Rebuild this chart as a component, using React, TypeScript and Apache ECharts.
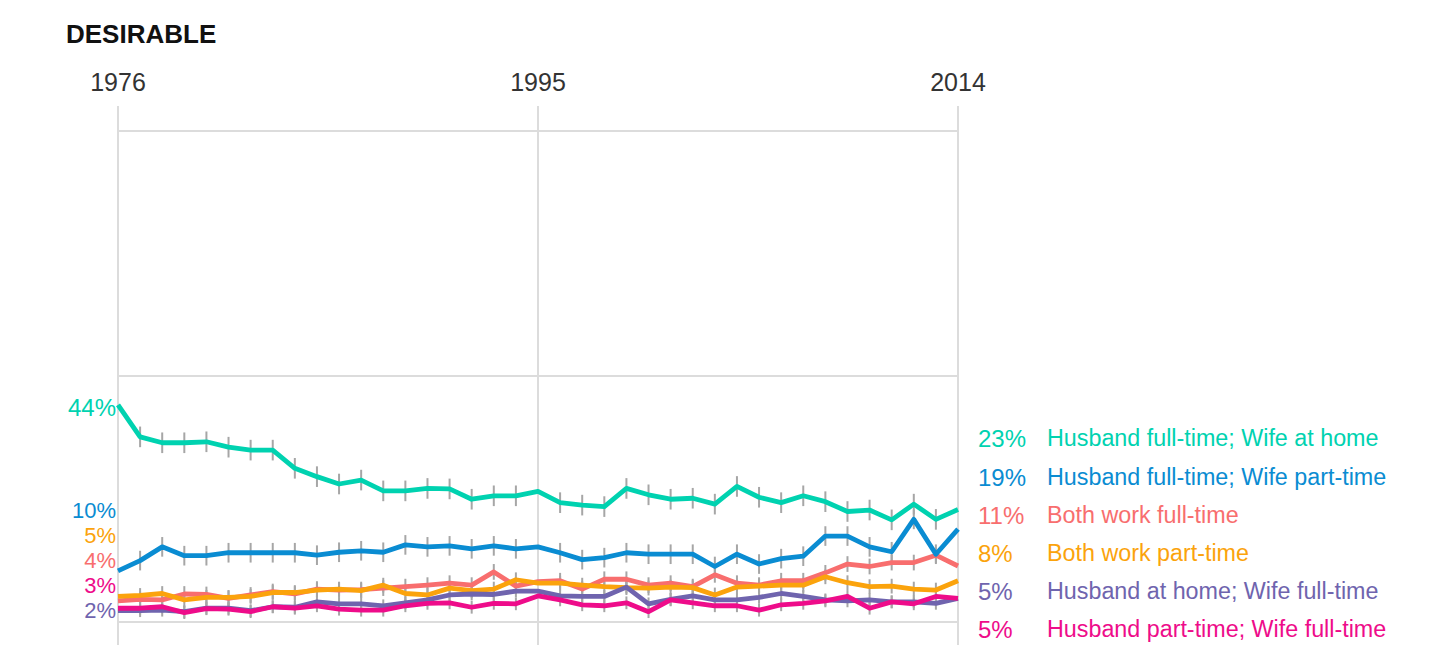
import React, { useEffect, useRef } from "react";
import * as echarts from "echarts";

const years = [
  1976, 1977, 1978, 1979, 1980, 1981, 1982, 1983, 1984, 1985,
  1986, 1987, 1988, 1989, 1990, 1991, 1992, 1993, 1994, 1995,
  1996, 1997, 1998, 1999, 2000, 2001, 2002, 2003, 2004, 2005,
  2006, 2007, 2008, 2009, 2010, 2011, 2012, 2013, 2014,
];
const xTicks = [1976, 1995, 2014];
const yGridValues = [0, 50, 100];
const noBarYears = [1976, 1995, 2014];

const seriesNames = [
  "Husband full-time; Wife at home",
  "Husband full-time; Wife part-time",
  "Both work full-time",
  "Both work part-time",
  "Husband at home; Wife full-time",
  "Husband part-time; Wife full-time",
];
const seriesColors = ["#00d2b0", "#0a8cd2", "#f86e6e", "#fba30c", "#6f64ae", "#ee0c8a"];

const husbandFtWifeHome = [
  44.1, 37.6, 36.4, 36.4, 36.6, 35.5, 34.9, 34.9, 31.2, 29.5,
  28.0, 28.8, 26.6, 26.6, 27.1, 27.0, 24.9, 25.6, 25.6, 26.5,
  24.2, 23.7, 23.4, 27.1, 25.8, 24.9, 25.1, 23.9, 27.5, 25.3,
  24.2, 25.6, 24.4, 22.4, 22.7, 20.7, 23.9, 20.8, 22.8,
];
const husbandFtWifePt = [
  10.3, 12.4, 15.2, 13.4, 13.4, 14.0, 14.0, 14.0, 14.0, 13.5,
  14.1, 14.4, 14.1, 15.6, 15.2, 15.4, 14.8, 15.4, 14.8, 15.2,
  14.0, 12.6, 13.0, 14.0, 13.7, 13.7, 13.7, 11.2, 13.7, 11.7,
  12.8, 13.3, 17.4, 17.4, 15.2, 14.2, 20.8, 13.7, 18.8,
];
const bothFullTime = [
  4.2, 4.5, 4.4, 5.6, 5.5, 4.7, 5.4, 6.1, 5.6, 6.6,
  6.4, 6.5, 6.8, 7.1, 7.4, 7.8, 7.4, 10.1, 7.2, 8.1,
  8.3, 6.6, 8.6, 8.6, 7.4, 7.8, 7.1, 9.5, 7.8, 7.4,
  8.3, 8.3, 9.9, 11.7, 11.2, 12.0, 12.0, 13.5, 11.3,
];
const bothPartTime = [
  5.1, 5.3, 5.7, 4.4, 4.9, 4.9, 5.1, 5.9, 5.9, 6.4,
  6.6, 6.3, 7.4, 5.7, 5.4, 6.8, 6.3, 6.6, 8.5, 7.8,
  7.8, 7.4, 7.1, 6.9, 6.8, 7.0, 6.9, 5.4, 7.0, 7.2,
  7.4, 7.4, 9.1, 7.9, 7.1, 7.2, 6.6, 6.4, 8.3,
];
const husbandHomeWifeFt = [
  2.2, 2.2, 2.3, 2.0, 2.7, 2.7, 2.2, 3.0, 2.9, 4.0,
  3.6, 3.6, 3.2, 3.8, 4.4, 5.4, 5.6, 5.5, 6.2, 6.2,
  5.2, 5.1, 5.1, 7.0, 3.6, 4.5, 5.2, 4.4, 4.4, 4.9,
  5.7, 5.1, 4.4, 4.2, 4.4, 4.0, 4.0, 3.7, 4.7,
];
const husbandPtWifeFt = [
  2.7, 2.7, 3.0, 1.8, 2.6, 2.5, 2.0, 3.0, 2.7, 3.2,
  2.5, 2.3, 2.3, 3.2, 3.7, 3.8, 2.9, 3.7, 3.6, 5.2,
  4.4, 3.4, 3.2, 3.8, 2.0, 4.4, 3.8, 3.2, 3.2, 2.3,
  3.4, 3.7, 4.2, 5.1, 2.7, 4.0, 3.6, 5.1, 4.7,
];
const seriesValues = [
  husbandFtWifeHome,
  husbandFtWifePt,
  bothFullTime,
  bothPartTime,
  husbandHomeWifeFt,
  husbandPtWifeFt,
];
// half-length of the grey error bars, in percentage points
const errorHalf = [2.1, 2.0, 1.6, 1.5, 1.3, 1.3];

// label layout
const leftLabelOrder = [0, 1, 3, 2, 5, 4];
const leftLabelY = [407, 510, 535, 560, 585, 610];
const rightLabelOrder = [0, 1, 2, 3, 4, 5];
const rightLabelY = [438, 477, 515, 553, 591, 629];

const FONT = "'Liberation Sans', Arial, sans-serif";

export default function App() {
  const ref = useRef<HTMLDivElement>(null);

  useEffect(() => {
    document.body.style.margin = "0";
    if (!ref.current) return;
    const chart = echarts.init(ref.current, undefined, { renderer: "svg" });

    const drawOrder = [2, 3, 4, 5, 1, 0];

    const barSeries: any[] = seriesValues.map((vals, si) => ({
      type: "custom",
      silent: true,
      z: 1,
      data: years
        .map((y, i) => [y, vals[i], errorHalf[si]])
        .filter((d) => noBarYears.indexOf(d[0] as number) < 0),
      renderItem: (_p: any, api: any) => {
        const x = api.value(0);
        const v = api.value(1);
        const e = api.value(2);
        const a = api.coord([x, v - e]);
        const b = api.coord([x, v + e]);
        return {
          type: "line",
          shape: { x1: a[0], y1: a[1], x2: b[0], y2: b[1] },
          style: { stroke: "#a6a6a6", lineWidth: 2 },
        };
      },
    }));

    const lineSeries: any[] = drawOrder.map((si, k) => ({
      type: "line",
      name: seriesNames[si],
      z: 3 + k,
      silent: true,
      symbol: "none",
      data: years.map((y, i) => [y, seriesValues[si][i]]),
      lineStyle: { color: seriesColors[si], width: 4.8, join: "round" },
      itemStyle: { color: seriesColors[si] },
    }));

    const gridSeries: any = {
      type: "line",
      data: [],
      silent: true,
      z: 0,
      markLine: {
        silent: true,
        symbol: "none",
        label: { show: false },
        lineStyle: { color: "#dcdcdc", width: 2, type: "solid" },
        data: yGridValues.map((v) => ({ yAxis: v })),
      },
    };

    const graphics: any[] = [
      {
        type: "text",
        left: 66,
        top: 21,
        style: {
          text: "DESIRABLE",
          fontFamily: FONT,
          fontWeight: "bold",
          fontSize: 26,
          fill: "#111",
        },
      },
    ];
    leftLabelOrder.forEach((si, k) => {
      graphics.push({
        type: "text",
        x: 116,
        y: leftLabelY[k],
        style: {
          text: Math.round(seriesValues[si][0]) + "%",
          fontFamily: FONT,
          fontSize: k === 0 ? 24 : 22,
          fill: seriesColors[si],
          align: "right",
          verticalAlign: "middle",
        },
      });
    });
    rightLabelOrder.forEach((si, k) => {
      const vals = seriesValues[si];
      graphics.push({
        type: "text",
        x: 978,
        y: rightLabelY[k],
        style: {
          text: Math.round(vals[vals.length - 1]) + "%",
          fontFamily: FONT,
          fontSize: 24,
          fill: seriesColors[si],
          align: "left",
          verticalAlign: "middle",
        },
      });
      graphics.push({
        type: "text",
        x: 1047,
        y: rightLabelY[k],
        style: {
          text: seriesNames[si],
          fontFamily: FONT,
          fontSize: 23.3,
          fill: seriesColors[si],
          align: "left",
          verticalAlign: "middle",
        },
      });
    });

    chart.setOption({
      animation: false,
      backgroundColor: "#ffffff",
      grid: { left: 118, right: 498, top: 106, bottom: 27, containLabel: false },
      xAxis: {
        type: "value",
        position: "top",
        min: xTicks[0],
        max: xTicks[xTicks.length - 1],
        interval: xTicks[1] - xTicks[0],
        axisLine: { show: false },
        axisTick: { show: false },
        axisLabel: {
          show: true,
          margin: 12,
          fontFamily: FONT,
          fontSize: 25,
          color: "#333",
          formatter: (v: number) => String(v),
        },
        splitLine: { show: true, lineStyle: { color: "#dcdcdc", width: 2 } },
      },
      yAxis: {
        type: "value",
        min: -4.79,
        max: 104.99,
        show: true,
        axisLine: { show: false },
        axisTick: { show: false },
        axisLabel: { show: false },
        splitLine: { show: false },
      },
      series: [gridSeries, ...barSeries, ...lineSeries],
      graphic: graphics,
    });

    return () => chart.dispose();
  }, []);

  return <div ref={ref} style={{ width: 1456, height: 672 }} />;
}
